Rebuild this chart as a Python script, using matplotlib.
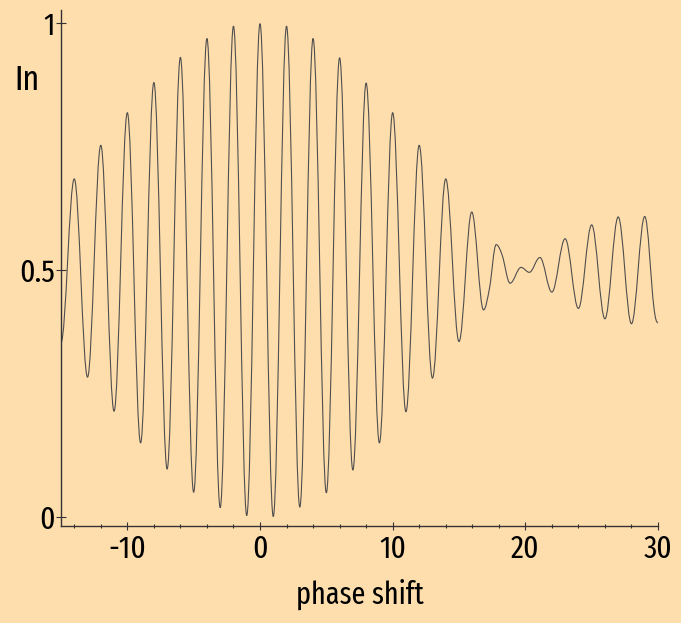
import numpy as np
import matplotlib
matplotlib.use("Agg")
import matplotlib.pyplot as plt
from matplotlib.path import Path
from matplotlib.patches import PathPatch
from matplotlib.ticker import MultipleLocator

# extrema (and a few kinks) of the intensity curve
phase = [-15, -14, -13, -12, -11, -10, -9, -8, -7, -6, -5, -4, -3, -2, -1,
         0, 1, 2, 3, 4, 5, 6, 7, 8, 9, 10, 11, 12, 13, 14, 15,
         15.96, 16.85, 17.3, 17.8, 18.25, 18.85, 19.68, 20.3, 21.1, 22.0,
         23.0, 24.0, 25.0, 26.0, 27.0, 28.0, 29.0, 29.7, 30.0]
intensity = [0.353, 0.684, 0.283, 0.752, 0.214, 0.818, 0.150, 0.879, 0.097, 0.930,
             0.050, 0.968, 0.019, 0.993, 0.003,
             0.998, 0.001, 0.993, 0.020, 0.968, 0.049, 0.929, 0.095, 0.878, 0.150,
             0.818, 0.213, 0.752, 0.281, 0.684, 0.355,
             0.617, 0.419, 0.463, 0.551, 0.530, 0.473, 0.505, 0.495, 0.525, 0.455,
             0.563, 0.422, 0.591, 0.401, 0.607, 0.391, 0.608, 0.422, 0.393]

x_ticks = [-10, 0, 10, 20, 30]
y_ticks = [0, 0.5, 1]
y_ticklabels = ["0", "0.5", "1"]

BG = "#FFDEAD"
plt.rcParams["font.family"] = ["Fira Sans Extra Condensed", "DejaVu Sans"]
plt.rcParams["axes.unicode_minus"] = False


def smooth_path(xs, ys, k=0.3634):
    """Bezier path through the points, flat tangents at extrema."""
    xs = np.asarray(xs, float)
    ys = np.asarray(ys, float)
    n = len(xs)
    slopes = np.zeros(n)
    for i in range(1, n - 1):
        a, b, c = ys[i - 1], ys[i], ys[i + 1]
        if (b - a) * (c - b) > 0:  # not an extremum -> secant slope
            slopes[i] = (c - a) / (xs[i + 1] - xs[i - 1])
    verts = [(xs[0], ys[0])]
    codes = [Path.MOVETO]
    for i in range(n - 1):
        dx = xs[i + 1] - xs[i]
        verts += [(xs[i] + k * dx, ys[i] + slopes[i] * k * dx),
                  (xs[i + 1] - k * dx, ys[i + 1] - slopes[i + 1] * k * dx),
                  (xs[i + 1], ys[i + 1])]
        codes += [Path.CURVE4] * 3
    return Path(verts, codes)


fig = plt.figure(figsize=(6.81, 6.23), dpi=100, facecolor=BG)
ax = fig.add_axes([61 / 681, 97 / 623, 597 / 681, 516 / 623])
ax.set_facecolor(BG)

ax.add_patch(PathPatch(smooth_path(phase, intensity), fill=False,
                       edgecolor="#4f4f4f", lw=0.8))

ax.set_xlim(-15, 30)
ax.set_ylim(-0.0182, 1.0257)

for s in ["top", "right"]:
    ax.spines[s].set_visible(False)
for s in ["left", "bottom"]:
    ax.spines[s].set_color("#333333")
    ax.spines[s].set_linewidth(1.0)

ax.set_xticks(x_ticks)
ax.xaxis.set_minor_locator(MultipleLocator(2))
ax.set_yticks(y_ticks)
ax.set_yticklabels(y_ticklabels)
ax.tick_params(axis="x", which="major", direction="inout", length=6, width=0.8,
               colors="#333333", labelcolor="black", labelsize=23, pad=3)
ax.tick_params(axis="x", which="minor", direction="inout", length=3, width=0.8,
               colors="#333333")
ax.tick_params(axis="y", which="major", direction="inout", length=7, width=0.8,
               colors="#333333", labelcolor="black", labelsize=23, pad=1)

fig.text(27 / 681, 1 - 80 / 623, "In", fontsize=25, ha="center", va="center")
ax.set_xlabel("phase shift", fontsize=22, labelpad=10)

fig.savefig("out.png", dpi=100, facecolor=BG)
